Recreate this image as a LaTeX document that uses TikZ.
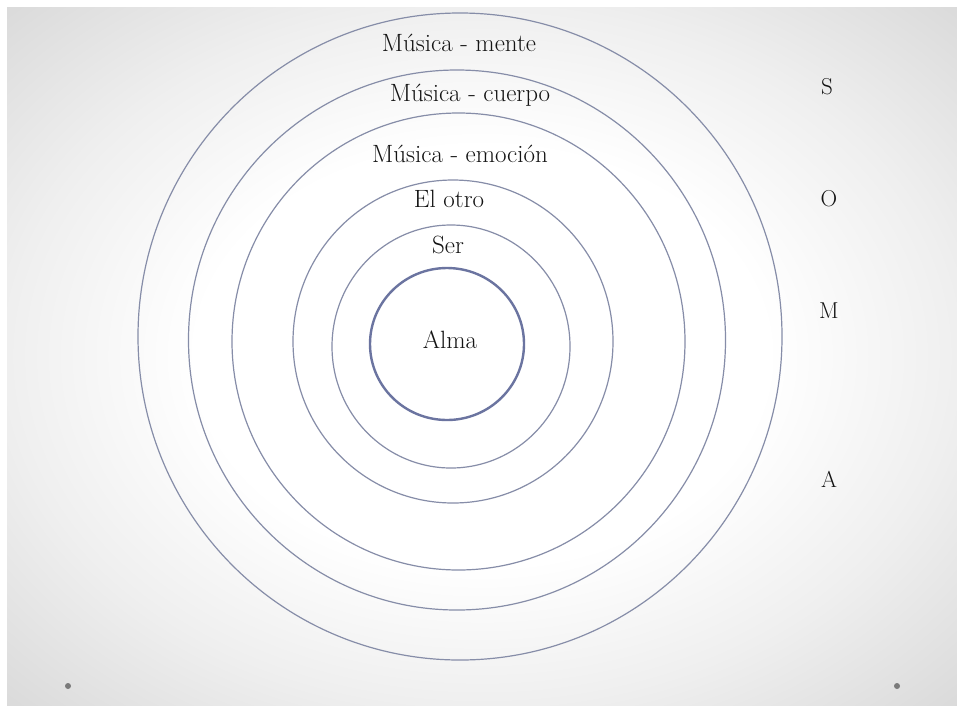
\documentclass[tikz,border=0pt]{standalone}
\usepackage{tikz}
\definecolor{ringcol}{HTML}{868DA8}
\definecolor{innercol}{HTML}{6B74A0}
\definecolor{dotcol}{HTML}{7A7A7A}
\definecolor{edgegray}{HTML}{DADADA}
\definecolor{midgray}{HTML}{EFEFEF}
\pgfdeclareradialshading{slidebg}{\pgfpoint{0bp}{0bp}}{color(0bp)=(white); color(15bp)=(white); color(25bp)=(midgray); color(35.5bp)=(edgegray); color(50bp)=(edgegray)}
\tikzset{
  ring/.style={draw=ringcol, line width=1.2pt},
  innerring/.style={draw=innercol, line width=2.4pt},
  lbl/.style={font=\fontsize{25}{29}\selectfont, text=black!92, inner sep=0pt},
  soma/.style={font=\fontsize{23}{27}\selectfont, text=black!92, inner sep=0pt},
  dotmark/.style={circle, fill=dotcol, inner sep=0pt, minimum size=6pt}
}
\begin{document}
\begin{tikzpicture}[x=1pt,y=-1pt]
\useasboundingbox (0,0) rectangle (957,705);
\fill[white] (0,0) rectangle (957,705);
\shade[shading=slidebg] (7,7) rectangle (957,705);
% rings
\draw[ring] (460,336.5) ellipse [x radius=322, y radius=323.5];
\draw[ring] (457,340) ellipse [x radius=268.5, y radius=270];
\draw[ring] (458.5,341.5) ellipse [x radius=226.5, y radius=228.5];
\draw[ring] (453,341.5) ellipse [x radius=160, y radius=161.5];
\draw[ring] (451,346.5) ellipse [x radius=119, y radius=121.5];
\draw[innerring] (447,344) ellipse [x radius=77, y radius=76];
% labels
\node[lbl] (mente) at (459,43) {Música - mente};
\node[lbl] (cuerpo) at (470,95) {Música - cuerpo};
\node[lbl] (emocion) at (460,154) {Música - emoción};
\node[lbl] (otro) at (449,199) {El otro};
\node[lbl] (ser) at (448,245) {Ser};
\node[lbl] (alma) at (450,340) {Alma};
\node[soma] (s) at (827,87) {S};
\node[soma] (o) at (829,199) {O};
\node[soma] (m) at (829,311) {M};
\node[soma] (a) at (829,479) {A};
\node[dotmark] (d1) at (68,686) {};
\node[dotmark] (d2) at (897,686) {};
\end{tikzpicture}
\end{document}
